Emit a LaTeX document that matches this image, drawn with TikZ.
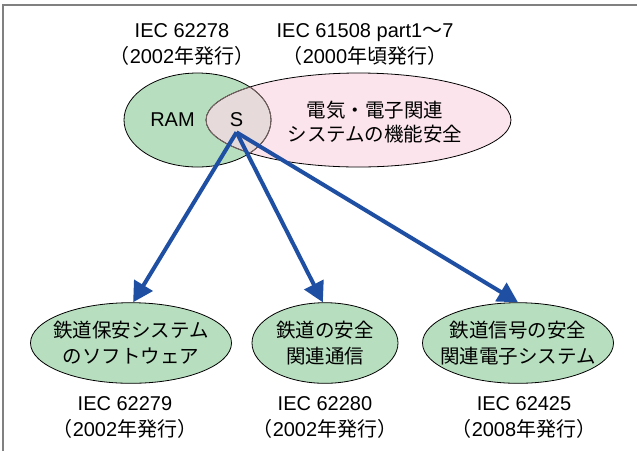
\documentclass[tikz,border=0pt]{standalone}
\usepackage{fontspec}
\setmainfont{Liberation Sans}
\newfontfamily\jp{Noto Sans CJK JP}
\usetikzlibrary{arrows.meta,positioning,shapes.geometric}
\definecolor{Mint}{HTML}{B7DFBF}
\definecolor{Blush}{HTML}{FCE4EC}
\definecolor{Overlap}{HTML}{E6DADB}
\definecolor{Navy}{HTML}{1F4FA2}
\definecolor{Frame}{HTML}{808080}
\definecolor{Seam}{HTML}{7A6464}

\begin{document}
\begin{tikzpicture}[x=1pt,y=-1pt,
  txt/.style={font=\fontsize{20}{26}\selectfont,align=center,inner sep=0pt},
  jptxt/.style={font=\jp\fontsize{19.5}{24}\selectfont,align=center,inner sep=0pt},
  stdbox/.style={ellipse,draw=black,line width=0.8pt,fill=Mint,minimum width=#1,minimum height=80.6pt,inner xsep=-40pt,inner ysep=0pt,align=center,font=\jp\fontsize{19.5}{26}\selectfont},
  outline/.style={draw=black,line width=0.8pt},
  seam/.style={draw=Seam,line width=0.8pt},
  flow/.style={-{Triangle[length=20pt,width=21pt]},line width=4pt,draw=Navy}
]
\useasboundingbox (0,0) rectangle (637,451);
\draw[Frame,line width=1.5pt] (3,451) -- (3,5) -- (637,5);

% RAM / functional safety overlap
\fill[Mint] (197.5,120) ellipse [x radius=73.5, y radius=47];
\fill[Blush] (358.5,120) ellipse [x radius=152.5, y radius=47];
\begin{scope}
  \clip (197.5,120) ellipse [x radius=73.5, y radius=47];
  \fill[Overlap] (358.5,120) ellipse [x radius=152.5, y radius=47];
\end{scope}
\draw[outline] (197.5,120) ellipse [x radius=73.5, y radius=47];
\draw[outline] (358.5,120) ellipse [x radius=152.5, y radius=47];
\begin{scope}
  \clip (358.5,120) ellipse [x radius=152.5, y radius=47];
  \draw[seam] (197.5,120) ellipse [x radius=73.5, y radius=47];
\end{scope}
\begin{scope}
  \clip (197.5,120) ellipse [x radius=73.5, y radius=47];
  \draw[seam] (358.5,120) ellipse [x radius=152.5, y radius=47];
\end{scope}

\node[txt] (ram) at (172.5,120) {RAM};
\node[txt,inner sep=3pt] (s) at (236.5,120) {S};
\node[jptxt] (func) at (375,122) {電気・電子関連\\システムの機能安全};
\node[txt] (iec78) at (182,44) {IEC 62278\\{\jp （}2002{\jp 年発行）}};
\node[txt] (iec08) at (365,44) {IEC 61508 part1{\jp ～}7\\{\jp （}2000{\jp 年頃発行）}};

% railway standards
\node[stdbox=201pt] (sw) at (131,343) {鉄道保安システム\\のソフトウェア};
\node[stdbox=146pt] (comm) at (325,343) {鉄道の安全\\関連通信};
\node[stdbox=191pt] (elec) at (518,343) {鉄道信号の安全\\関連電子システム};
\node[txt,below=13pt of sw,xshift=-6pt] (iec79) {IEC 62279\\{\jp （}2002{\jp 年発行）}};
\node[txt,below=13pt of comm] (iec80) {IEC 62280\\{\jp （}2002{\jp 年発行）}};
\node[txt,below=13pt of elec,xshift=6pt] (iec25) {IEC 62425\\{\jp （}2008{\jp 年発行）}};

\draw[flow] ([yshift=-2pt]s.south) -- (sw.87);
\draw[flow] ([yshift=-2pt]s.south) -- (comm.93);
\draw[flow] ([yshift=-2pt]s.south) -- (elec.north);
\end{tikzpicture}
\end{document}
